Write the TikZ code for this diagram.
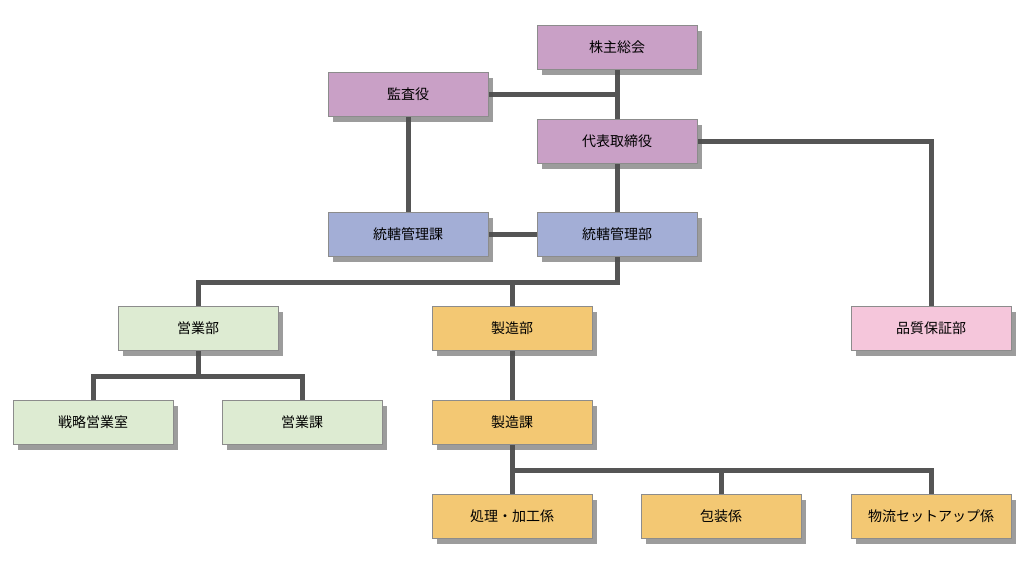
\documentclass[tikz,border=0pt]{standalone}
\usepackage{fontspec}
\newfontfamily\cjk{Noto Sans CJK JP}
\usetikzlibrary{shadows}
\definecolor{cP}{HTML}{C9A0C6}
\definecolor{cB}{HTML}{A3AED6}
\definecolor{cG}{HTML}{DDEBD2}
\definecolor{cO}{HTML}{F3C873}
\definecolor{cK}{HTML}{F5C6DB}
\definecolor{ln}{HTML}{555555}
\begin{document}
\begin{tikzpicture}[x=1pt,y=-1pt,
 box/.style={draw=black!45,line width=0.8pt,minimum width=160pt,minimum height=44pt,inner sep=0pt,font=\cjk\fontsize{14}{16}\selectfont,drop shadow={shadow xshift=5pt,shadow yshift=-6pt,opacity=0.55,fill=black!70}},
 con/.style={draw=ln,line width=5pt}]
\useasboundingbox (0,0) rectangle (1024,563);
\fill[white] (0,0) rectangle (1024,563);
\coordinate (j1) at (617,94);
\coordinate (j2) at (931,141);
\coordinate (j3) at (617,282);
\coordinate (j3a) at (198,282);
\coordinate (j3b) at (512,282);
\coordinate (j4) at (198,376);
\coordinate (j4a) at (93,376);
\coordinate (j4b) at (302,376);
\coordinate (j5) at (512,470);
\coordinate (j5a) at (721,470);
\coordinate (j5b) at (931,470);
\draw[con] (617,47) -- (617,141);
\draw[con] (408,94) -- (j1);
\draw[con] (617,141) -- (j2) -- (931,328);
\draw[con] (408,94) -- (408,234) -- (617,234);
\draw[con] (617,141) -- (j3) -- (j3a) -- (198,328);
\draw[con] (j3b) -- (512,422) -- (j5) -- (512,516);
\draw[con] (j5) -- (j5b) -- (931,516);
\draw[con] (j5a) -- (721,516);
\draw[con] (198,328) -- (j4) -- (j4a) -- (93,422);
\draw[con] (j4) -- (j4b) -- (302,422);
\node[box,fill=cP] (a) at (617,47) {株主総会};
\node[box,fill=cP] (b) at (408,94) {監査役};
\node[box,fill=cP] (c) at (617,141) {代表取締役};
\node[box,fill=cB] (d) at (408,234) {統轄管理課};
\node[box,fill=cB] (e) at (617,234) {統轄管理部};
\node[box,fill=cG] (f) at (198,328) {営業部};
\node[box,fill=cO] (g) at (512,328) {製造部};
\node[box,fill=cK] (h) at (931,328) {品質保証部};
\node[box,fill=cG] (i) at (93,422) {戦略営業室};
\node[box,fill=cG] (j) at (302,422) {営業課};
\node[box,fill=cO] (k) at (512,422) {製造課};
\node[box,fill=cO] (l) at (512,516) {処理・加工係};
\node[box,fill=cO] (m) at (721,516) {包装係};
\node[box,fill=cO] (n) at (931,516) {物流セットアップ係};
\end{tikzpicture}
\end{document}
